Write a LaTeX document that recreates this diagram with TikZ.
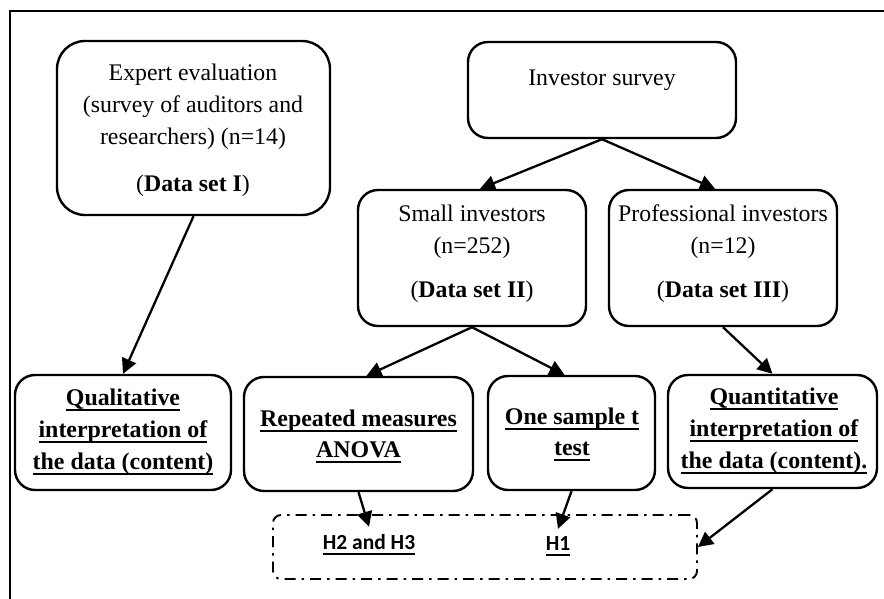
\documentclass[tikz,border=0pt]{standalone}
\usepackage{fontspec}
\setmainfont{Liberation Serif}
\newfontfamily\hfont{Carlito}
\usetikzlibrary{arrows.meta}
\newsavebox\ulbox
\newcommand{\myul}[1]{\sbox\ulbox{#1}\rlap{\rule[-6pt]{\wd\ulbox}{2pt}}\usebox\ulbox}
\begin{document}
\begin{tikzpicture}[x=1pt,y=-1pt,
  box/.style={draw, line width=2.4pt, rounded corners=20pt, inner sep=0pt},
  txt/.style={anchor=base, inner sep=0pt, align=center, font=\fontsize{23.8}{32}\selectfont},
  btxt/.style={txt, font=\bfseries\fontsize{23.9}{32}\selectfont},
  htxt/.style={anchor=base, inner xsep=0pt, inner ysep=7pt, font=\hfont\bfseries\fontsize{21.5}{26}\selectfont},
  arr/.style={line width=2.3pt, -{Triangle[length=15pt,width=15pt]}},
  hypbox/.style={draw, line width=1.9pt, rounded corners=8pt, dash pattern=on 11pt off 6pt on 2.5pt off 6pt}]
\useasboundingbox (0,0) rectangle (884,599);
\draw[line width=1.6pt] (10,11) rectangle (940,660);
% boxes
\node[box, rounded corners=28pt, minimum width=273pt, minimum height=174pt] (expert) at (193.5,128) {};
\node[box, minimum width=268pt, minimum height=96pt] (invest) at (602,90) {};
\node[box, minimum width=228pt, minimum height=136pt] (small) at (472,258) {};
\node[box, minimum width=228pt, minimum height=136pt] (prof) at (723,258) {};
\node[box, minimum width=216pt, minimum height=115pt] (qual) at (123,432.5) {};
\node[box, minimum width=229pt, minimum height=114pt] (rep) at (358.5,434) {};
\node[box, minimum width=167pt, minimum height=114pt] (one) at (571.5,433) {};
\node[box, minimum width=209pt, minimum height=113pt] (quant) at (772.5,431.5) {};
\node[hypbox, minimum width=424pt, minimum height=64pt] (hyp) at (485,547) {};
% texts (anchor base = baseline of last line)
\node[txt] (expertT) at (193,191) {Expert evaluation\\(survey of auditors and\\researchers) (n=14)\\[15pt](\textbf{Data set I})};
\node[txt] (investT) at (602,86) {Investor survey};
\node[txt] (smallT) at (472,297) {Small investors\\(n=252)\\[12pt](\textbf{Data set II})};
\node[txt] (profT) at (723,297) {Professional investors\\(n=12)\\[12pt](\textbf{Data set III})};
\node[btxt] (qualT) at (123,469) {\myul{Qualitative}\\\myul{interpretation of}\\\myul{the data (content)}};
\node[btxt, font=\bfseries\fontsize{23.9}{31}\selectfont] (repT) at (358.5,457) {\myul{Repeated measures}\\\myul{ANOVA}};
\node[btxt, font=\bfseries\fontsize{23.9}{31}\selectfont] (oneT) at (572,455) {\myul{One sample t}\\\myul{test}};
\node[btxt] (quantT) at (774,468) {\myul{Quantitative}\\\myul{interpretation of}\\\myul{the data (content).}};
\node[htxt] (h23) at (369,549) {\myul{H2 and H3}};
\node[htxt] (h1) at (558,550) {\myul{H1}};
% arrows
\draw[arr] (expert.south) -- (qual.north);
\draw[arr] (invest.south) -- ([xshift=8pt]small.north);
\draw[arr] (invest.south) -- ([xshift=-8pt]prof.north);
\draw[arr] (small.south) -- ([xshift=8pt]rep.north);
\draw[arr] (small.south) -- ([xshift=-7pt]one.north);
\draw[arr] (prof.south) -- (quant.north);
\draw[arr] (rep.south) -- (h23.north);
\draw[arr] (one.south) -- (h1.north);
\draw[arr] (quant.south) -- (hyp.east);
\end{tikzpicture}
\end{document}
